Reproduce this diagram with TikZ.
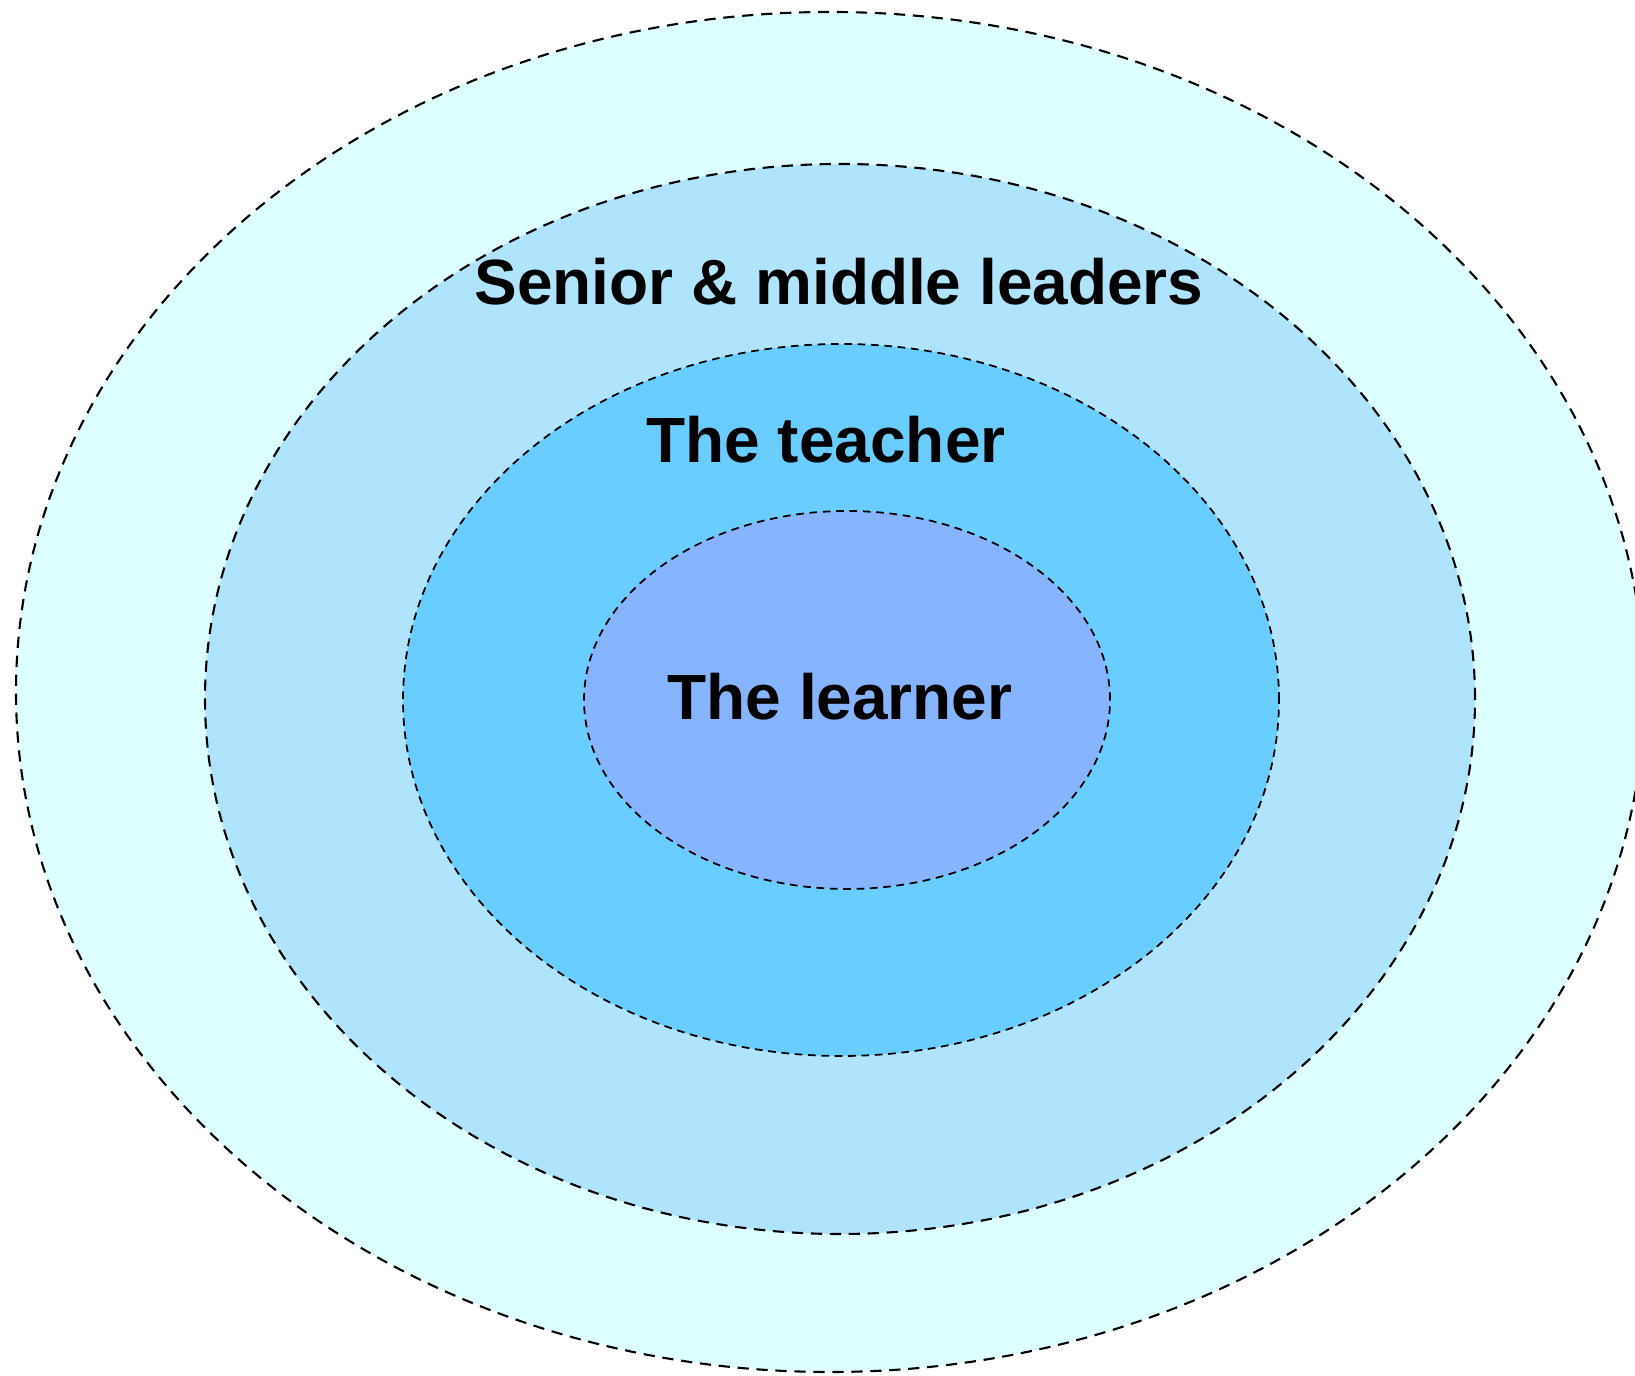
\documentclass[tikz,border=0pt]{standalone}
\usepackage{fontspec}
\setmainfont{Liberation Sans}
\usepackage{xcolor}
\usepackage{tikz}
\usetikzlibrary{positioning}

\definecolor{ringone}{RGB}{222,255,255}
\definecolor{ringtwo}{RGB}{175,228,252}
\definecolor{ringthree}{RGB}{105,205,255}
\definecolor{ringfour}{RGB}{135,180,255}

\begin{document}
\begin{tikzpicture}[ring/.style={draw=black, dashed, dash pattern=on 3.2pt off 2.2pt, line width=0.6pt},
    label/.style={font=\fontsize{18.2}{20}\selectfont\bfseries, inner sep=0pt}]
    \useasboundingbox (0,0) rectangle (16.35,13.75);

    % Rings, outside in
    \draw[ring, fill=ringone] (8.30,6.83) ellipse (8.14cm and 6.80cm);
    \draw[ring, fill=ringtwo] (8.40,6.76) ellipse (6.35cm and 5.35cm);
    \draw[ring, fill=ringthree, line width=0.5pt, dash pattern=on 2.2pt off 1.6pt] (8.41,6.75) ellipse (4.38cm and 3.56cm);
    \draw[ring, fill=ringfour, line width=0.5pt, dash pattern=on 2.2pt off 1.6pt] (8.47,6.75) ellipse (2.63cm and 1.89cm);

    % Labels
    \node[label] (leaders) at (8.39,10.93) {Senior \& middle leaders};
    \node[label] (teacher) at (8.26,9.35) {The teacher};
    \node[label] (learner) at (8.40,6.78) {The learner};
\end{tikzpicture}
\end{document}
